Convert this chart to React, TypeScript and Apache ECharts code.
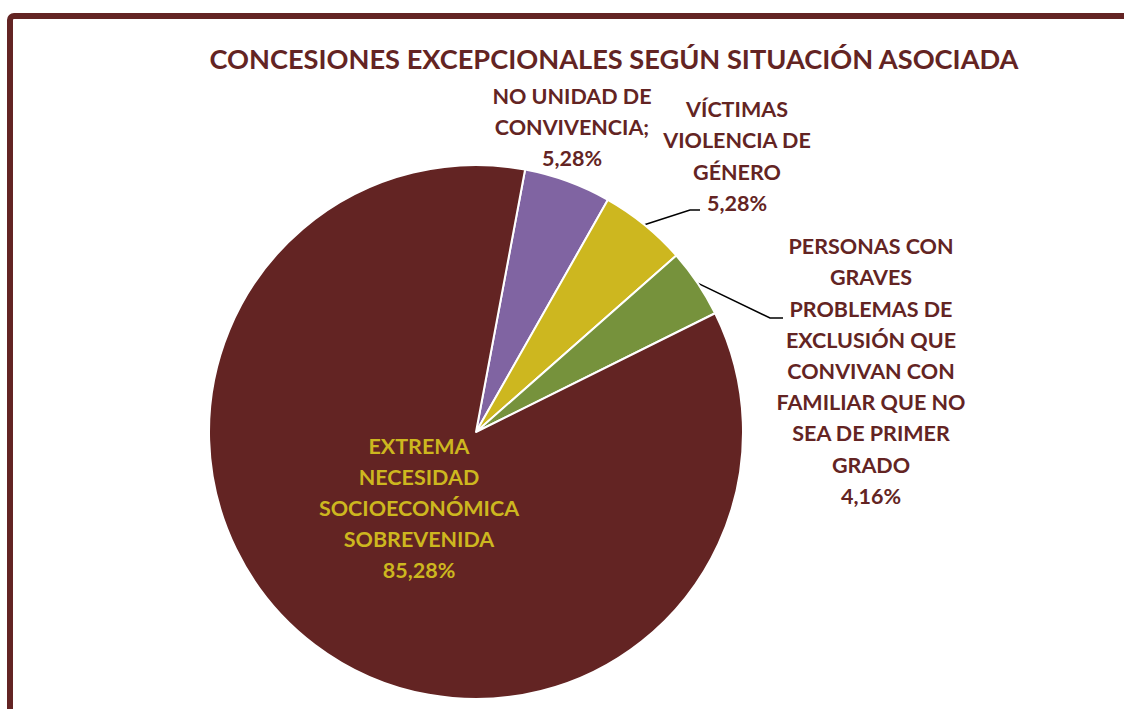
import React, { useEffect, useRef } from "react";
import * as echarts from "echarts";

const categories = [
  "NO UNIDAD DE\nCONVIVENCIA;",
  "VÍCTIMAS\nVIOLENCIA DE\nGÉNERO",
  "PERSONAS CON\nGRAVES\nPROBLEMAS DE\nEXCLUSIÓN QUE\nCONVIVAN CON\nFAMILIAR QUE NO\nSEA DE PRIMER\nGRADO",
  "EXTREMA\nNECESIDAD\nSOCIOECONÓMICA\nSOBREVENIDA",
];
const values = [5.28, 5.28, 4.16, 85.28];
const colors = ["#8064A2", "#CDB71F", "#76923C", "#632423"];
const labelPositions = [
  [572, 127],
  [737, 156],
  [871, 371],
  [419, 508],
];
// elbow + end points of leader lines (null = no line)
const leaderEnds: (number[][] | null)[] = [
  null,
  [[690, 210], [700, 210]],
  [[770, 318], [783, 318]],
  null,
];

const TITLE = "CONCESIONES EXCEPCIONALES SEGÚN SITUACIÓN ASOCIADA";
const DARK = "#632423";
const FONT = "Lato";
const CENTER = [476, 432];
const RADIUS = 267;
const START_ANGLE = 79.4;

export default function App() {
  const ref = useRef<HTMLDivElement>(null);
  useEffect(() => {
    if (!ref.current) return;
    const chart = echarts.init(ref.current, null, { renderer: "svg" });
    const total = values.reduce((a, b) => a + b, 0);
    const midAngles: number[] = [];
    let acc = 0;
    values.forEach((v) => {
      midAngles.push(90 - START_ANGLE + ((acc + v / 2) / total) * 360);
      acc += v;
    });
    chart.setOption({
      animation: false,
      backgroundColor: "#ffffff",
      title: {
        text: TITLE,
        left: 609,
        top: 40,
        textAlign: "center",
        textStyle: {
          color: DARK,
          fontSize: 27.2,
          fontWeight: "bold",
          fontFamily: FONT,
        },
      },
      graphic: [
        {
          type: "rect",
          shape: { x: 10, y: 16, width: 1200, height: 800, r: 4 },
          style: { fill: "none", stroke: DARK, lineWidth: 6 },
          silent: true,
        },
      ],
      series: [
        {
          type: "pie",
          center: CENTER,
          radius: [0, RADIUS],
          startAngle: START_ANGLE,
          clockwise: true,
          avoidLabelOverlap: false,
          itemStyle: { borderColor: "#ffffff", borderWidth: 2 },
          label: {
            show: true,
            position: "outside",
            formatter: (p: any) =>
              p.name + "\n" + p.value.toFixed(2).replace(".", ",") + "%",
            color: DARK,
            fontSize: 21.5,
            fontWeight: "bold",
            fontFamily: FONT,
            lineHeight: 31.2,
            align: "center",
          },
          labelLine: {
            show: true,
            lineStyle: { color: "#000000", width: 1.5 },
            length: 20,
            length2: 10,
          },
          labelLayout: (params: any) => {
            const i = params.dataIndex;
            const pos = labelPositions[i];
            const out: any = {
              x: pos[0],
              y: pos[1],
              align: "center",
              verticalAlign: "middle",
            };
            const ends = leaderEnds[i];
            if (ends) {
              const a = (midAngles[i] * Math.PI) / 180;
              const p0 = [
                CENTER[0] + RADIUS * Math.sin(a),
                CENTER[1] - RADIUS * Math.cos(a),
              ];
              out.labelLinePoints = [p0, ends[0], ends[1]];
            }
            return out;
          },
          data: values.map((v, i) => ({
            name: categories[i],
            value: v,
            itemStyle: { color: colors[i] },
            labelLine: { show: !!leaderEnds[i] },
            label: i === 3 ? { color: "#CDB71F", position: "inside" } : undefined,
          })),
        },
      ],
    });
    return () => chart.dispose();
  }, []);
  return (
    <div
      ref={ref}
      style={{ position: "fixed", left: 0, top: 0, width: 1124, height: 709 }}
    />
  );
}
